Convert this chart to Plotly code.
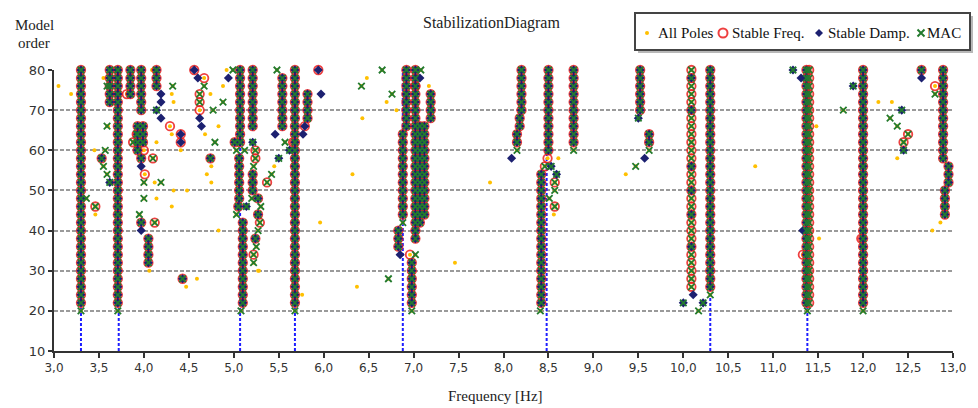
import plotly.graph_objects as go

# ---------------------------------------------------------------------------
# Stabilization diagram data (frequency in Hz, model order)
# ---------------------------------------------------------------------------
model_orders = [20, 22, 24, 26, 28, 30, 32, 34, 36, 38, 40, 42, 44, 46, 48, 50,
                52, 54, 56, 58, 60, 62, 64, 66, 68, 70, 72, 74, 76, 78, 80]

# Vertical alignments where frequency, damping and MAC are all stable
stable_col_freq = [3.30, 3.71, 3.62, 3.85, 3.97, 3.93, 3.99, 4.05, 4.14,
                   5.07, 5.06, 5.10, 5.21, 5.21, 5.54, 5.68, 5.82,
                   6.92, 6.88, 6.83, 7.02, 7.07, 7.12, 7.19, 6.98,
                   8.20, 8.18, 8.15, 8.50, 8.42, 8.78, 9.52, 9.62,
                   10.30, 11.37, 12.00, 12.89, 12.95, 12.91]
stable_col_min = [22, 22, 72, 74, 70, 60, 62, 32, 76,
                  62, 48, 22, 66, 50, 66, 22, 68,
                  66, 44, 36, 40, 42, 44, 68, 22,
                  70, 66, 62, 60, 22, 62, 70, 62,
                  26, 22, 22, 58, 52, 44]
stable_col_max = [80, 80, 80, 80, 80, 66, 66, 38, 80,
                  80, 58, 42, 80, 54, 78, 80, 74,
                  80, 64, 40, 80, 66, 66, 74, 32,
                  80, 68, 64, 80, 54, 80, 80, 64,
                  80, 80, 80, 80, 56, 50]

# Alignments with stable frequency and MAC only
fm_col_freq = [10.09, 11.40]
fm_col_min = [26, 22]
fm_col_max = [80, 80]

# Isolated poles, grouped by the stability criteria they satisfy
full_f = [3.53, 3.97, 3.97, 4.43, 4.74, 5.01, 5.05, 5.27, 5.27, 5.24, 7.02, 12.65]
full_o = [58, 58, 42, 28, 58, 62, 46, 48, 44, 38, 38, 80]

fm_f = [3.46, 4.10, 4.12, 5.24, 5.24, 5.29, 5.22, 5.37, 8.46, 8.57, 8.57,
        12.50, 12.45, 4.62, 4.62, 3.88, 3.92]
fm_o = [46, 58, 42, 60, 58, 42, 34, 52, 56, 52, 46,
        64, 62, 74, 72, 62, 64]

freq_only_f = [3.81, 4.00, 4.29, 4.62, 4.67, 6.96, 7.02, 8.49, 11.33, 11.98,
               12.80, 5.66, 4.01]
freq_only_o = [74, 60, 66, 70, 78, 34, 76, 58, 34, 38,
               76, 62, 54]

freq_damp_f = [4.41, 4.41, 5.79, 4.56, 5.94]
freq_damp_o = [64, 62, 66, 80, 80]

damp_only_f = [3.97, 4.19, 4.19, 4.19, 4.60, 4.62, 4.64, 4.94, 5.46, 5.77,
               5.97, 6.85, 7.07, 8.09, 9.57, 10.11, 11.31, 11.33, 12.65, 3.97,
               10.09, 10.09, 10.09, 10.09, 10.09, 10.09]
damp_only_o = [56, 74, 72, 68, 78, 68, 66, 78, 64, 64,
               74, 34, 78, 58, 58, 24, 78, 40, 78, 40,
               78, 70, 56, 50, 44, 36]

damp_mac_f = [3.62, 4.14, 5.14, 5.21, 5.50, 5.62, 8.53, 8.59, 10.00, 10.22,
              11.22, 11.89, 12.43, 12.45, 9.50]
damp_mac_o = [52, 70, 46, 62, 58, 60, 56, 54, 22, 22,
              80, 76, 70, 60, 68]

mac_only_f = [3.59, 3.59, 3.57, 3.55, 3.59, 3.36, 4.00, 3.95, 4.00, 4.19,
              4.32, 4.67, 4.88, 4.77, 4.79, 4.99, 5.03, 5.12, 5.03, 5.22,
              5.20, 5.30, 5.27, 5.25, 5.22, 5.42, 5.48, 5.57, 6.65, 6.42,
              6.76, 6.72, 6.88, 7.02, 7.08, 8.15, 8.57, 8.51, 8.78, 9.62,
              9.47, 10.30, 11.78, 12.30, 12.38, 12.80, 5.82,
              3.30, 3.71, 5.08, 5.68, 6.98, 8.41, 10.17, 11.38, 12.00]
mac_only_o = [76, 66, 60, 56, 54, 48, 48, 44, 52, 52,
              76, 76, 72, 70, 62, 80, 60, 60, 44, 56,
              48, 46, 40, 36, 32, 54, 80, 62, 80, 76,
              74, 28, 42, 34, 80, 60, 50, 48, 60, 60,
              56, 24, 70, 68, 66, 74, 68,
              20, 20, 20, 20, 20, 20, 20, 20, 20]

# Poles that meet none of the stability criteria
unstable_f = [3.05, 3.19, 3.55, 3.60, 3.45, 3.94, 4.14, 4.31, 4.33, 4.31,
              4.41, 4.12, 4.14, 4.33, 4.48, 4.31, 3.46, 3.68, 4.06, 4.59,
              4.47, 4.09, 4.92, 4.88, 4.74, 4.83, 4.68, 4.75, 4.70, 4.75,
              4.83, 5.45, 5.96, 5.76, 5.27, 5.28, 6.37, 7.46, 6.48, 6.70,
              6.81, 6.43, 6.32, 7.85, 7.17, 8.61, 8.56, 9.36, 10.80, 11.48,
              11.51, 12.17, 12.32, 12.38, 12.86, 12.77]
unstable_o = [76, 74, 78, 66, 60, 60, 62, 74, 72, 64,
              60, 52, 48, 50, 50, 46, 44, 38, 30, 28,
              26, 80, 80, 76, 74, 66, 64, 56, 54, 52,
              40, 56, 42, 24, 30, 30, 26, 32, 78, 72,
              70, 68, 54, 52, 76, 58, 44, 54, 56, 66,
              38, 72, 72, 58, 42, 40]

# Identified modes (marked down to the lowest model order)
mode_freqs = [3.30, 3.72, 5.07, 5.68, 6.88, 8.48, 10.30, 11.38]

x_tick_vals = [3.0, 3.5, 4.0, 4.5, 5.0, 5.5, 6.0, 6.5, 7.0, 7.5, 8.0, 8.5,
               9.0, 9.5, 10.0, 10.5, 11.0, 11.5, 12.0, 12.5, 13.0]
x_tick_text = ["3,0", "3,5", "4,0", "4,5", "5,0", "5,5", "6,0", "6,5", "7,0",
               "7,5", "8,0", "8,5", "9,0", "9,5", "10,0", "10,5", "11,0",
               "11,5", "12,0", "12,5", "13,0"]
y_tick_vals = [10, 20, 30, 40, 50, 60, 70, 80]

legend_names = ["All Poles", "Stable Freq.", "Stable Damp.", "MAC"]


def expand_columns(freqs, lows, highs):
    """One pole per model order along each aligned column."""
    fx, oy = [], []
    for f, lo, hi in zip(freqs, lows, highs):
        for o in model_orders:
            if lo <= o <= hi:
                fx.append(f)
                oy.append(o)
    return fx, oy


sc_f, sc_o = expand_columns(stable_col_freq, stable_col_min, stable_col_max)
fmc_f, fmc_o = expand_columns(fm_col_freq, fm_col_min, fm_col_max)

red_f = sc_f + fmc_f + full_f + fm_f + freq_only_f + freq_damp_f
red_o = sc_o + fmc_o + full_o + fm_o + freq_only_o + freq_damp_o
blue_f = sc_f + full_f + freq_damp_f + damp_only_f + damp_mac_f
blue_o = sc_o + full_o + freq_damp_o + damp_only_o + damp_mac_o
green_f = sc_f + fmc_f + full_f + fm_f + damp_mac_f + mac_only_f
green_o = sc_o + fmc_o + full_o + fm_o + damp_mac_o + mac_only_o
all_f = unstable_f + red_f + blue_f + green_f
all_o = unstable_o + red_o + blue_o + green_o

YELLOW = "#FFC000"
RED = "rgba(235,30,30,0.85)"
NAVY = "#1C2070"
GREEN = "#237A2E"
MODE_BLUE = "#1E1EFF"

fig = go.Figure()

# dashed mode markers
for f in mode_freqs:
    fig.add_trace(go.Scatter(
        x=[f, f], y=[10, 80], mode="lines", showlegend=False, hoverinfo="skip",
        line=dict(color=MODE_BLUE, width=2, dash="3px,2px")))

fig.add_trace(go.Scatter(
    x=all_f, y=all_o, mode="markers", name=legend_names[0], cliponaxis=False,
    marker=dict(symbol="circle", size=4, color=YELLOW, line=dict(width=0))))
fig.add_trace(go.Scatter(
    x=red_f, y=red_o, mode="markers", name=legend_names[1], cliponaxis=False,
    marker=dict(symbol="circle-open", size=8.5, color=RED, line=dict(width=1.8, color=RED))))
fig.add_trace(go.Scatter(
    x=blue_f, y=blue_o, mode="markers", name=legend_names[2], cliponaxis=False,
    marker=dict(symbol="diamond", size=7, color=NAVY, line=dict(width=0))))
fig.add_trace(go.Scatter(
    x=green_f, y=green_o, mode="markers", name=legend_names[3], cliponaxis=False,
    marker=dict(symbol="x-thin-open", size=6.5, color=GREEN, line=dict(width=1.8, color=GREEN))))

# Plot area in pixels: x 54..953, y 70..351
L, R, T, B = 54, 25, 70, 57
W, H = 978, 408
PW, PH = W - L - R, H - T - B


def pxx(px):
    return (px - L) / PW


def pxy(py):
    return (H - B - py) / PH


SERIF = "Liberation Serif, Times New Roman, serif"
SANS = "DejaVu Sans, Verdana, sans-serif"

annotations = [
    dict(text="StabilizationDiagram", x=pxx(491), y=pxy(23), xref="paper", yref="paper",
         xanchor="center", yanchor="middle", showarrow=False,
         font=dict(family=SERIF, size=16, color="#222")),
    dict(text="Model", x=pxx(34), y=pxy(25), xref="paper", yref="paper",
         xanchor="center", yanchor="middle", showarrow=False,
         font=dict(family=SERIF, size=15, color="#222")),
    dict(text="order", x=pxx(34), y=pxy(43), xref="paper", yref="paper",
         xanchor="center", yanchor="middle", showarrow=False,
         font=dict(family=SERIF, size=15, color="#222")),
    dict(text="Frequency [Hz]", x=pxx(495), y=pxy(396), xref="paper", yref="paper",
         xanchor="center", yanchor="middle", showarrow=False,
         font=dict(family=SERIF, size=15, color="#222")),
]

# legend box drawn by hand so it sits compactly in the top-right corner
legend_text_x = [656, 730, 826, 925]
for name, tx in zip(legend_names, legend_text_x):
    annotations.append(dict(text=name, x=pxx(tx), y=pxy(33), xref="paper", yref="paper",
                            xanchor="left", yanchor="middle", showarrow=False,
                            font=dict(family=SERIF, size=15, color="#111")))

shapes = [
    dict(type="rect", xref="paper", yref="paper", x0=pxx(638), x1=pxx(973),
         y0=pxy(16), y1=pxy(53), line=dict(width=0), fillcolor="#b8b8b8", layer="above"),
    dict(type="rect", xref="paper", yref="paper", x0=pxx(635), x1=pxx(970),
         y0=pxy(13), y1=pxy(50), line=dict(width=2, color="#444"), fillcolor="white",
         layer="above"),
    # All Poles symbol
    dict(type="circle", xref="paper", yref="paper", x0=pxx(645), x1=pxx(649),
         y0=pxy(31), y1=pxy(35), line=dict(width=0), fillcolor=YELLOW, layer="above"),
    # Stable Freq. symbol
    dict(type="circle", xref="paper", yref="paper", x0=pxx(718.5), x1=pxx(727.5),
         y0=pxy(28.5), y1=pxy(37.5), line=dict(width=2, color=RED), layer="above"),
    # Stable Damp. symbol
    dict(type="path", xref="paper", yref="paper",
         path=f"M {pxx(819)} {pxy(29)} L {pxx(823)} {pxy(33)} L {pxx(819)} {pxy(37)} "
              f"L {pxx(815)} {pxy(33)} Z",
         line=dict(width=0), fillcolor=NAVY, layer="above"),
    # MAC symbol
    dict(type="path", xref="paper", yref="paper",
         path=f"M {pxx(917.5)} {pxy(29.5)} L {pxx(924.5)} {pxy(36.5)} "
              f"M {pxx(917.5)} {pxy(36.5)} L {pxx(924.5)} {pxy(29.5)}",
         line=dict(width=2, color=GREEN), layer="above"),
]

fig.update_layout(
    width=W, height=H,
    margin=dict(l=L, r=R, t=T, b=B, pad=0),
    paper_bgcolor="white", plot_bgcolor="white",
    showlegend=False,
    annotations=annotations,
    shapes=shapes,
    xaxis=dict(range=[3, 13], tickmode="array", tickvals=x_tick_vals, ticktext=x_tick_text,
               showgrid=False, zeroline=False, showline=True, linecolor="#333", linewidth=2,
               ticks="outside", ticklen=5, tickwidth=1.5, tickcolor="#333",
               tickfont=dict(family=SANS, size=12, color="#333")),
    yaxis=dict(range=[10, 80], tickmode="array", tickvals=y_tick_vals,
               showgrid=True, gridcolor="#9a9a9a", gridwidth=1.5, griddash="4px,2px",
               zeroline=False, showline=True, linecolor="#333", linewidth=2,
               ticks="outside", ticklen=4, tickwidth=1.5, tickcolor="#333",
               tickfont=dict(family=SANS, size=13, color="#333")),
)

fig.write_html("out.html")
